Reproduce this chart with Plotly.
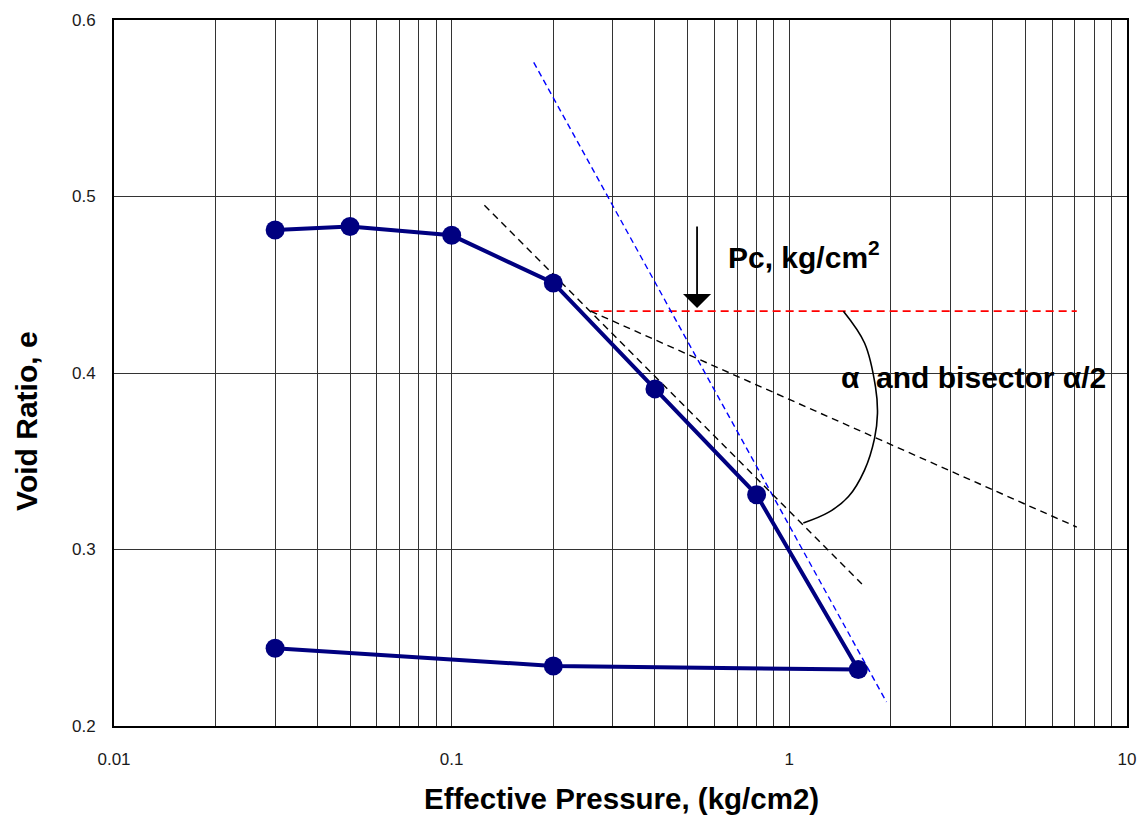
import math
import plotly.graph_objects as go

# ---- data ----
pressure = [0.03, 0.05, 0.1, 0.2, 0.4, 0.8, 1.6, 0.2, 0.03]
void_ratio = [0.481, 0.483, 0.478, 0.451, 0.391, 0.331, 0.232, 0.234, 0.244]

blue_x = [0.175, 1.94]
blue_y = [0.576, 0.2136]
tangent_x = [0.125, 1.64]
tangent_y = [0.495, 0.2805]
horiz_x = [0.258, 7.1]
horiz_y = [0.435, 0.435]
bisector_x = [0.258, 7.1]
bisector_y = [0.435, 0.3127]

arc_x = [1.446, 1.670, 1.800, 1.824, 1.788, 1.670, 1.497, 1.305, 1.100]
arc_y = [0.435, 0.417, 0.392, 0.377, 0.363, 0.345, 0.330, 0.321, 0.315]

pc_value = 0.533
pc_arrow_top = 0.4839
pc_arrow_tip = 0.4368

x_tick_vals = [0.01, 0.1, 1, 10]
x_tick_text = ["0.01", "0.1", "1", "10"]
x_minor_vals = [0.02, 0.03, 0.04, 0.05, 0.06, 0.07, 0.08, 0.09,
                0.2, 0.3, 0.4, 0.5, 0.6, 0.7, 0.8, 0.9,
                2, 3, 4, 5, 6, 7, 8, 9]
y_tick_vals = [0.2, 0.3, 0.4, 0.5, 0.6]
y_tick_text = ["0.2", "0.3", "0.4", "0.5", "0.6"]

FONT = "Liberation Sans, Arial, sans-serif"

fig = go.Figure()

# white backing box behind the alpha label (above gridlines, below traces)
fig.add_shape(type="rect", xref="paper", yref="paper",
              x0=0.699, x1=0.998, y0=0.462, y1=0.535,
              fillcolor="white", line=dict(width=0), layer="between")

fig.add_trace(go.Scatter(x=horiz_x, y=horiz_y, mode="lines",
                         line=dict(color="#ff0000", width=1.8, dash="8px,5px")))
fig.add_trace(go.Scatter(x=blue_x, y=blue_y, mode="lines",
                         line=dict(color="#0000ff", width=1.4, dash="6px,4px")))
fig.add_trace(go.Scatter(x=tangent_x, y=tangent_y, mode="lines",
                         line=dict(color="black", width=1.4, dash="7px,5px")))
fig.add_trace(go.Scatter(x=bisector_x, y=bisector_y, mode="lines",
                         line=dict(color="black", width=1.4, dash="7px,5px")))
fig.add_trace(go.Scatter(x=arc_x, y=arc_y, mode="lines",
                         line=dict(color="black", width=1.6, shape="spline")))
fig.add_trace(go.Scatter(x=pressure, y=void_ratio, mode="lines+markers",
                         line=dict(color="#000080", width=4),
                         marker=dict(color="#000080", size=19)))

# arrow for Pc
fig.add_annotation(x=math.log10(pc_value), y=pc_arrow_tip,
                   ax=math.log10(pc_value), ay=pc_arrow_top,
                   xref="x", yref="y", axref="x", ayref="y",
                   text="", showarrow=True, arrowhead=1, arrowsize=2.6,
                   arrowwidth=1.8, arrowcolor="black", standoff=0, startstandoff=0)
fig.add_annotation(x=-0.187, y=0.4669, xref="x", yref="y",
                   text="<b>Pc, kg/cm<sup>2</sup></b>", showarrow=False,
                   xanchor="left", yanchor="middle",
                   font=dict(family=FONT, size=30, color="black"))
fig.add_annotation(x=0.1484, y=0.3972, xref="x", yref="y",
                   text="<b>α  and bisector α/2</b>", showarrow=False,
                   xanchor="left", yanchor="middle",
                   font=dict(family=FONT, size=30, color="black"))

# axis titles
fig.add_annotation(x=0.5005, y=-0.102, xref="paper", yref="paper",
                   text="<b>Effective Pressure, (kg/cm2)</b>", showarrow=False,
                   xanchor="center", yanchor="middle",
                   font=dict(family=FONT, size=29.5, color="black"))
fig.add_annotation(x=-0.087, y=0.432, xref="paper", yref="paper",
                   text="<b>Void Ratio, e</b>", showarrow=False, textangle=-90,
                   xanchor="center", yanchor="middle",
                   font=dict(family=FONT, size=30, color="black"))

fig.update_layout(
    width=1139, height=817,
    margin=dict(l=114, r=12, t=20, b=91, autoexpand=False),
    paper_bgcolor="white", plot_bgcolor="white",
    showlegend=False,
    font=dict(family=FONT, size=17, color="#1a1a1a"),
)
fig.update_xaxes(type="log", range=[-2, 1], tickmode="array",
                 tickvals=x_tick_vals, ticktext=x_tick_text, tickangle=0,
                 showgrid=True, gridcolor="#333", gridwidth=1,
                 minor=dict(tickmode="array", tickvals=x_minor_vals,
                            showgrid=True, gridcolor="#333", gridwidth=1, ticks=""),
                 showline=True, linecolor="black", linewidth=2, mirror=True,
                 ticks="", ticklabelstandoff=17, zeroline=False, automargin=False)
fig.update_yaxes(range=[0.2, 0.6], tickmode="array",
                 tickvals=y_tick_vals, ticktext=y_tick_text,
                 showgrid=True, gridcolor="#333", gridwidth=1,
                 showline=True, linecolor="black", linewidth=2, mirror=True,
                 ticks="", ticklabelstandoff=13, zeroline=False, automargin=False)

fig.write_html("out.html")
